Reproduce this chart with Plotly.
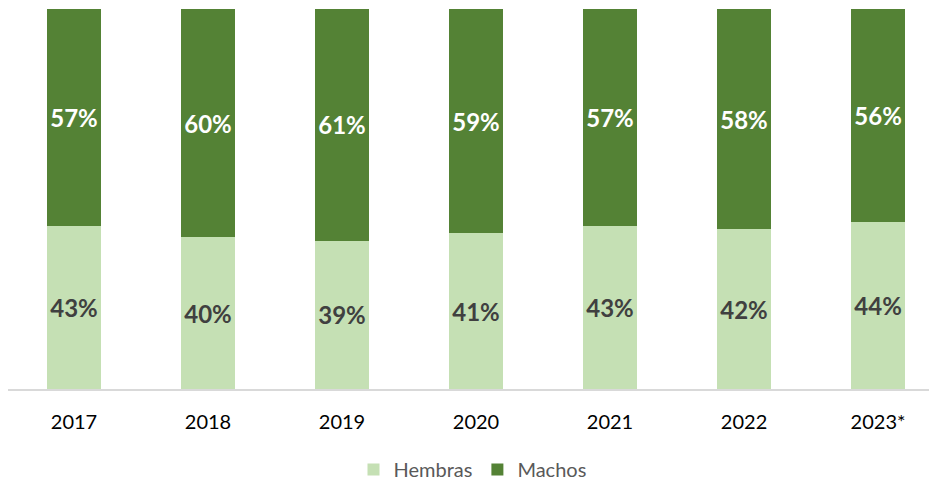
import plotly.graph_objects as go

years = ["2017", "2018", "2019", "2020", "2021", "2022", "2023*"]
hembras = [43, 40, 39, 41, 43, 42, 44]
machos = [57, 60, 61, 59, 57, 58, 56]

FONT = "Lato, 'Open Sans', sans-serif"

fig = go.Figure()
fig.add_trace(go.Bar(
    x=years, y=hembras, name="Hembras",
    marker=dict(color="#C5E0B4", line=dict(width=0)),
    text=[f"{v}%" for v in hembras], textposition="inside", insidetextanchor="middle",
    textangle=0, constraintext="none",
    textfont=dict(family=FONT, size=24, color="#404040", weight="bold"),
))
fig.add_trace(go.Bar(
    x=years, y=machos, name="Machos",
    marker=dict(color="#548235", line=dict(width=0)),
    text=[f"{v}%" for v in machos], textposition="inside", insidetextanchor="middle",
    textangle=0, constraintext="none",
    textfont=dict(family=FONT, size=24, color="#FFFFFF", weight="bold"),
))

fig.update_layout(
    barmode="stack", bargap=0.6,
    width=929, height=479,
    margin=dict(l=0, r=0, t=1, b=98, autoexpand=False),
    plot_bgcolor="white", paper_bgcolor="white",
    font=dict(family=FONT),
    showlegend=True,
    legend=dict(orientation="h", x=0.5, xanchor="center", y=-0.212, yanchor="middle",
                font=dict(family=FONT, size=20, color="#595959"), traceorder="normal",
                itemwidth=30, borderwidth=0),
)
fig.update_xaxes(
    type="category", range=[-0.4925, 6.44],
    showline=True, linecolor="#D9D9D9", linewidth=1.5,
    showgrid=False, ticks="", ticklabelstandoff=14,
    tickfont=dict(family=FONT, size=20, color="#000000"),
)
fig.update_yaxes(range=[0, 100], visible=False, showgrid=False)

fig.write_html("out.html")
